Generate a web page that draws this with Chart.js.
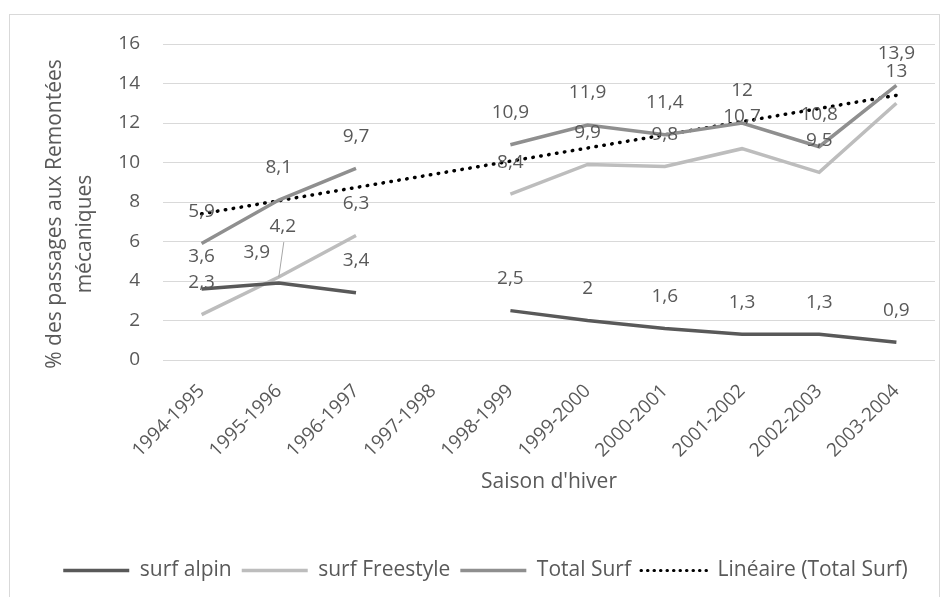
<!DOCTYPE html>
<html><head><meta charset="utf-8">
<script src="https://cdn.jsdelivr.net/npm/chart.js@4.4.0/dist/chart.umd.min.js"></script>
<style>
html,body{margin:0;padding:0;background:#fff;}
#wrap{position:relative;width:949px;height:597px;overflow:hidden;}
#frame{position:absolute;left:9px;top:14px;width:931px;height:600px;border:1px solid #d9d9d9;box-sizing:border-box;pointer-events:none;}
canvas{position:absolute;left:0;top:0;}
</style></head><body>
<div id="wrap"><canvas id="c" width="949" height="597"></canvas><div id="frame"></div></div>
<script>
const categories = ['1994-1995','1995-1996','1996-1997','1997-1998','1998-1999','1999-2000','2000-2001','2001-2002','2002-2003','2003-2004'];
const surfAlpin = [3.6, 3.9, 3.4, null, 2.5, 2, 1.6, 1.3, 1.3, 0.9];
const surfFreestyle = [2.3, 4.2, 6.3, null, 8.4, 9.9, 9.8, 10.7, 9.5, 13];
const totalSurf = [5.9, 8.1, 9.7, null, 10.9, 11.9, 11.4, 12, 10.8, 13.9];
const trendTotalSurf = [7.4, null, null, null, null, null, null, null, null, 13.4];
const seriesNames = ['surf alpin', 'surf Freestyle', 'Total Surf', 'Linéaire (Total Surf)'];
const yMin = 0, yMax = 16, yStep = 2;
const xTitle = "Saison d'hiver";
const yTitle = ['% des passages aux Remontées', 'mécaniques'];

const FONT = '"Open Sans", "DejaVu Sans", sans-serif';
const TXT = '#595959';

const labelPlugin = {
  id: 'valueLabels',
  afterDatasetsDraw(chart) {
    const ctx = chart.ctx;
    ctx.save();
    ctx.font = '19px ' + FONT;
    ctx.fillStyle = TXT;
    ctx.textAlign = 'center';
    ctx.textBaseline = 'middle';
    chart.data.datasets.forEach((ds, di) => {
      if (!ds.showValueLabels) return;
      const meta = chart.getDatasetMeta(di);
      meta.data.forEach((pt, i) => {
        const v = ds.data[i];
        if (v === null || v === undefined) return;
        let x = pt.x, y = pt.y - 32;
        const adj = ds.labelShift && ds.labelShift[i];
        if (adj) {
          x = pt.x + adj.dx; y = pt.y + adj.dy;
          if (adj.leader) {
            ctx.save();
            ctx.strokeStyle = '#a6a6a6';
            ctx.lineWidth = 1;
            ctx.beginPath();
            ctx.moveTo(x + 1, y + 15);
            ctx.lineTo(pt.x, pt.y);
            ctx.stroke();
            ctx.restore();
          }
        }
        ctx.fillText(String(v).replace('.', ','), x, y);
      });
    });
    ctx.restore();
  }
};

// y-axis title drawn beside the y scale, vertically placed like the original
const yTitlePlugin = {
  id: 'yTitle',
  afterDraw(chart) {
    const ctx = chart.ctx;
    const s = chart.scales.y;
    const mid = (s.top + s.bottom) / 2;
    ctx.save();
    ctx.font = '21px ' + FONT;
    ctx.fillStyle = TXT;
    ctx.textAlign = 'center';
    ctx.textBaseline = 'middle';
    const pos = [[55, mid + 12], [85, mid + 32]];
    yTitle.forEach((t, i) => {
      ctx.save();
      ctx.translate(pos[i][0], pos[i][1]);
      ctx.rotate(-Math.PI / 2);
      ctx.fillText(t, 0, 0);
      ctx.restore();
    });
    ctx.restore();
  }
};

new Chart(document.getElementById('c'), {
  type: 'line',
  data: {
    labels: categories,
    datasets: [
      { label: seriesNames[0], data: surfAlpin, borderColor: '#595959', backgroundColor: '#595959', borderWidth: 3.5, pointRadius: 0, spanGaps: false, showValueLabels: true,
        labelShift: {1: {dx: -22, dy: -30}} },
      { label: seriesNames[1], data: surfFreestyle, borderColor: '#bdbdbd', backgroundColor: '#bdbdbd', borderWidth: 3.5, pointRadius: 0, spanGaps: false, showValueLabels: true,
        labelShift: {1: {dx: 4, dy: -50, leader: true}} },
      { label: seriesNames[2], data: totalSurf, borderColor: '#8f8f8f', backgroundColor: '#8f8f8f', borderWidth: 3.5, pointRadius: 0, spanGaps: false, showValueLabels: true },
      { label: seriesNames[3], data: trendTotalSurf, borderColor: '#000000', backgroundColor: '#000000', borderWidth: 3.5, borderDash: [0.5, 7.5], borderCapStyle: 'round', pointRadius: 0, spanGaps: true, showValueLabels: false,
        legendDash: [0.5, 6] }
    ]
  },
  options: {
    responsive: false,
    animation: false,
    layout: { padding: { left: 36, top: 44, right: 14, bottom: 6 } },
    plugins: {
      legend: {
        position: 'bottom',
        labels: {
          usePointStyle: true, pointStyle: 'line', pointStyleWidth: 66, color: TXT, font: { family: FONT, size: 21 }, padding: 10,
          generateLabels(chart) {
            const items = Chart.defaults.plugins.legend.labels.generateLabels(chart);
            items.forEach(it => {
              const ds = chart.data.datasets[it.datasetIndex];
              it.strokeStyle = ds.borderColor;
              it.fillStyle = ds.borderColor;
              it.lineWidth = ds.legendDash ? 3 : 3.5;
              it.lineDash = ds.legendDash || [];
              it.lineCap = ds.borderCapStyle || 'butt';
              it.pointStyle = 'line';
            });
            return items;
          }
        }
      },
      tooltip: { enabled: false }
    },
    scales: {
      x: {
        offset: true,
        grid: { display: false },
        border: { display: false },
        ticks: { color: TXT, font: { family: FONT, size: 19 }, maxRotation: 45, minRotation: 45, autoSkip: false, padding: 12 },
        title: { display: true, text: xTitle, color: TXT, font: { family: FONT, size: 21, lineHeight: 1.55 }, padding: { top: 4, bottom: 52 } },
        afterFit(scale) { scale.height = 190; }
      },
      y: {
        min: yMin, max: yMax,
        grid: { color: '#d9d9d9', lineWidth: 1, drawTicks: false },
        border: { display: false },
        ticks: { stepSize: yStep, color: TXT, font: { family: FONT, size: 19 }, padding: 23 },
        title: { display: false },
        afterFit(scale) { scale.width = 127; }
      }
    }
  },
  plugins: [labelPlugin, yTitlePlugin]
});
</script>
</body></html>
